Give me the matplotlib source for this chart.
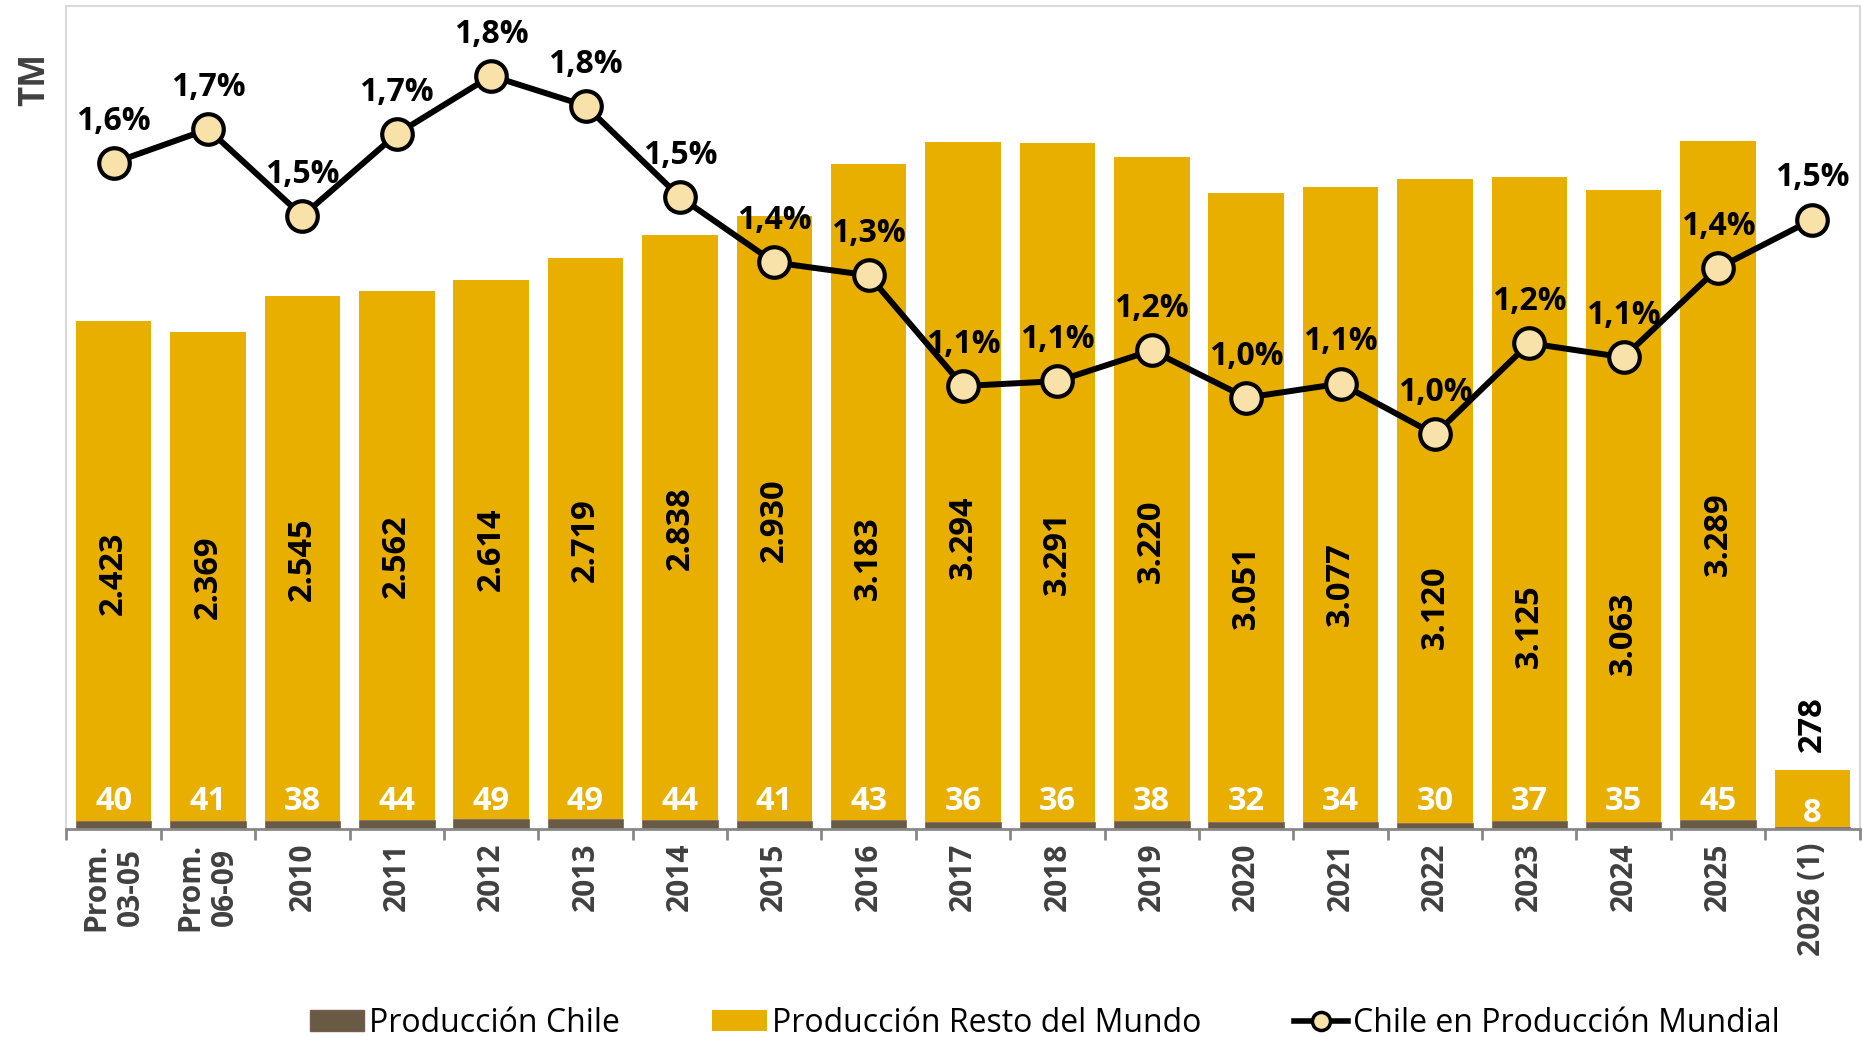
import numpy as np
import matplotlib.pyplot as plt
from matplotlib.lines import Line2D
from matplotlib.patches import Patch

plt.rcParams['font.family'] = ['Open Sans', 'DejaVu Sans']

# datos
categorias = ["Prom.\n03-05", "Prom.\n06-09", "2010", "2011", "2012", "2013", "2014",
              "2015", "2016", "2017", "2018", "2019", "2020", "2021", "2022", "2023",
              "2024", "2025", "2026 (1)"]
prod_chile = [40, 41, 38, 44, 49, 49, 44, 41, 43, 36, 36, 38, 32, 34, 30, 37, 35, 45, 8]
prod_resto = [2423, 2369, 2545, 2562, 2614, 2719, 2838, 2930, 3183, 3294, 3291, 3220,
              3051, 3077, 3120, 3125, 3063, 3289, 278]
part_chile = [1.625, 1.708, 1.493, 1.696, 1.840, 1.766, 1.540, 1.378, 1.346, 1.072,
              1.084, 1.160, 1.043, 1.078, 0.952, 1.178, 1.143, 1.364, 1.484]

# posicion vertical de las etiquetas del resto (como en el original)
lbl_resto_y = [1238, 1220, 1307, 1324, 1358, 1399, 1457, 1497, 1313, 1416, 1336, 1393,
               1174, 1186, 1077, 984, 950, 1428, 507]

c_chile = "#695A43"
c_resto = "#E8AF00"
c_mark = "#F8E2A9"
c_gris = "#404040"

fig = plt.figure(figsize=(18.62, 10.37), dpi=100)
ax = fig.add_axes([0.0357, 0.2006, 0.963, 0.7936])

x = np.arange(len(categorias))
ax.bar(x, prod_chile, width=0.8, color=c_chile, edgecolor="#7a5a50", linewidth=0.5)
ax.bar(x, prod_resto, width=0.8, bottom=prod_chile, color=c_resto)

ax.set_xlim(-0.5, len(categorias) - 0.5)
ax.set_ylim(0, 3990)
ax.set_yticks([])

for s in ["left", "top", "right"]:
    ax.spines[s].set_color("#D9D9D9")
    ax.spines[s].set_linewidth(1.5)
ax.spines["bottom"].set_color("#888888")
ax.spines["bottom"].set_linewidth(2)

ax.set_xticks(x)
ax.set_xticklabels(categorias, rotation=90, fontsize=21.5, fontweight="bold",
                   color=c_gris, va="top", ha="center", multialignment="center",
                   linespacing=1.2)
ax.tick_params(axis="x", which="major", length=0, pad=10)
ax.set_xticks(np.arange(-0.5, len(categorias), 1), minor=True)
ax.tick_params(axis="x", which="minor", length=8, width=2, color="#888888", direction="out")

for i in range(len(categorias)):
    ultimo = i == len(categorias) - 1
    ax.text(x[i], lbl_resto_y[i], f"{prod_resto[i]:,}".replace(",", "."), rotation=90,
            ha="center", va="center", fontsize=23.5, fontweight="bold", color="black")
    ax.text(x[i], 75 if ultimo else 135, str(prod_chile[i]), ha="center", va="center",
            fontsize=23.5, fontweight="bold", color="white")

ax2 = ax.twinx()
ax2.set_ylim(-0.025, 2.013)
ax2.axis("off")
ax2.plot(x, part_chile, color="black", linewidth=4.3, marker="o", markersize=22,
         markerfacecolor=c_mark, markeredgecolor="black", markeredgewidth=3, zorder=5)
for i, v in enumerate(part_chile):
    ax2.annotate(f"{v:.1f}%".replace(".", ","), (x[i], v), xytext=(0, 30),
                 textcoords="offset points", ha="center", va="center",
                 fontsize=23, fontweight="bold", color="black", zorder=6)

fig.text(35 / 1862, 1 - 80 / 1037, "TM", rotation=90, ha="center", va="center",
         fontsize=25, fontweight="bold", color=c_gris)

handles = [Patch(facecolor=c_chile, edgecolor="#7a5a50"),
           Patch(facecolor=c_resto),
           Line2D([0], [0], color="black", linewidth=4, marker="o", markersize=13,
                  markerfacecolor=c_mark, markeredgecolor="black", markeredgewidth=2.5)]
labels = ["Producción Chile", "Producción Resto del Mundo", "Chile en Producción Mundial"]
fig.legend(handles, labels, loc="center", bbox_to_anchor=(0.561, 0.0135), ncol=3,
           frameon=False, fontsize=23, handlelength=1.7, handletextpad=0.15,
           columnspacing=2.9, handleheight=0.65, borderpad=0.1)

fig.savefig("out.png", dpi=100)
